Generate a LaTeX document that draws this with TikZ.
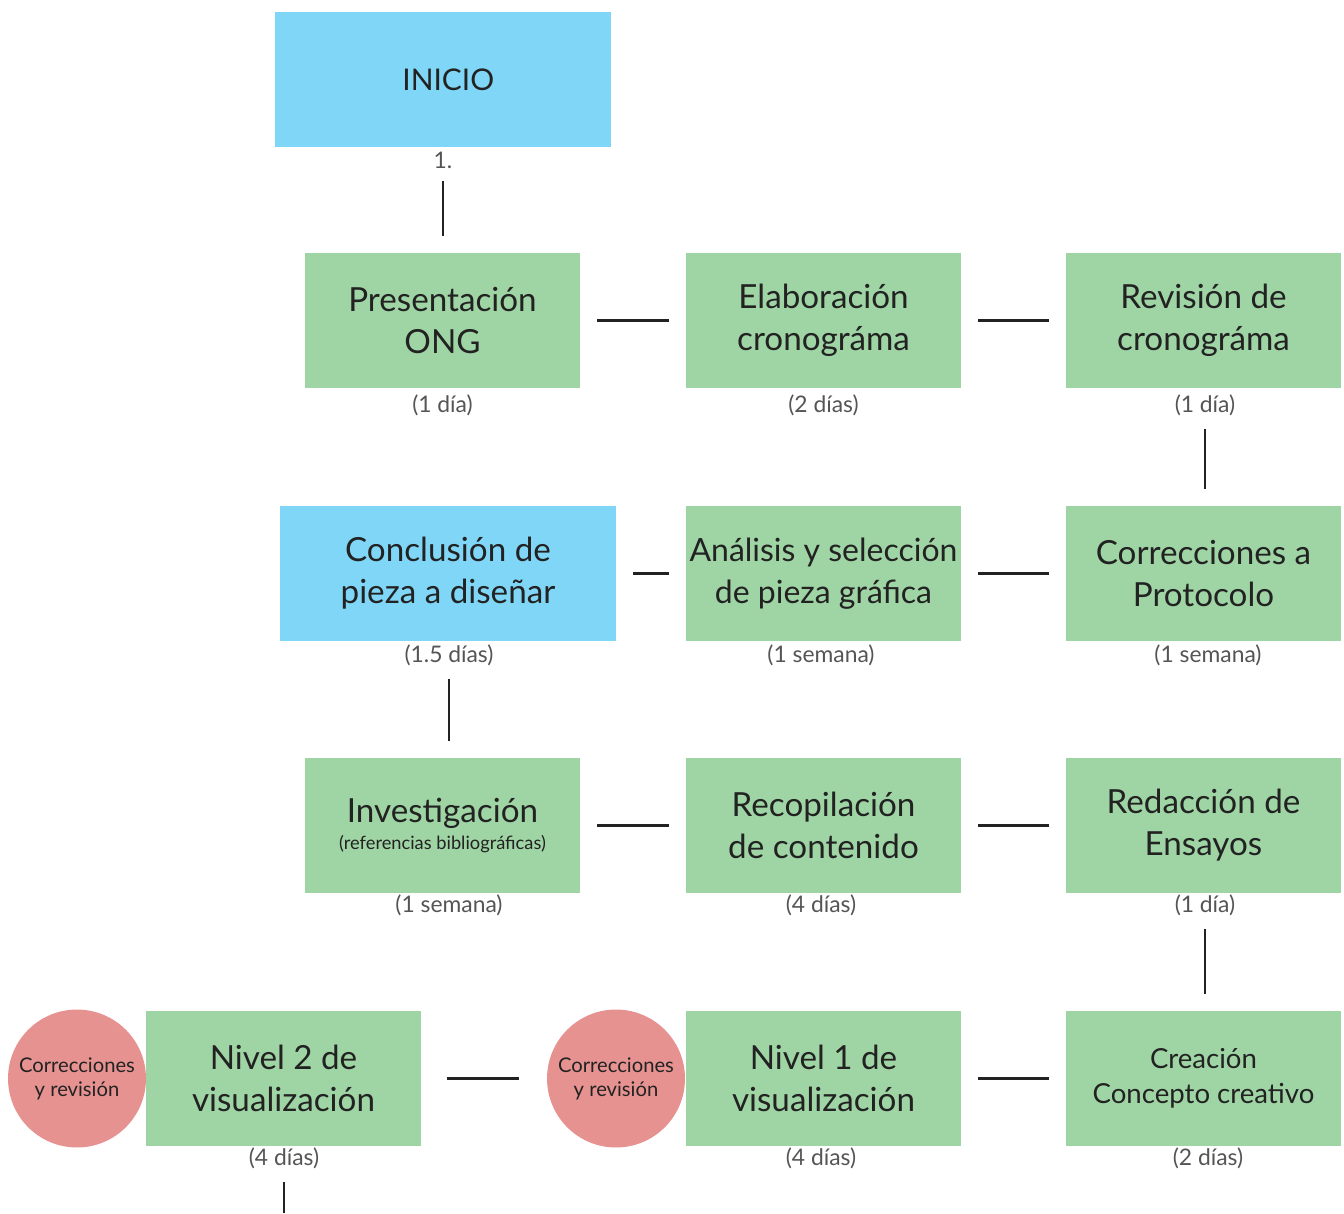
\documentclass[tikz,border=0pt]{standalone}
\usepackage{fontspec}
\setmainfont{Lato}
\usepackage{tikz}
\usepackage{xcolor}
\usetikzlibrary{positioning}
\definecolor{tarea}{HTML}{9FD5A4}
\definecolor{hito}{HTML}{80D6F7}
\definecolor{revis}{HTML}{E69291}
\definecolor{tinta}{HTML}{222222}
\definecolor{gris}{HTML}{555555}
\tikzset{
 box/.style={rectangle, fill=tarea, minimum width=5.5cm, minimum height=2.7cm, inner sep=0pt, align=center, text=tinta, font=\fontsize{18.9}{23.8}\selectfont},
 hitobox/.style={box, fill=hito, minimum width=6.72cm},
 circ/.style={circle, fill=revis, minimum size=2.76cm, inner sep=0pt, align=center, text=tinta, font=\fontsize{11.5}{13.8}\selectfont},
 dur/.style={text=gris, inner sep=1pt, font=\fontsize{13}{15}\selectfont},
 link/.style={draw=tinta, line width=1.5pt, shorten <=0.34cm, shorten >=0.34cm},
 vlink/.style={draw=tinta, line width=1.5pt, shorten <=0.22cm, shorten >=0.32cm}
}
\begin{document}
\begin{tikzpicture}[x=0.02cm, y=-0.02cm]
 \useasboundingbox (0,0) rectangle (1344,1213); % page size
 % boxes
 \node[hitobox, font=\fontsize{17}{21}\selectfont] (inicio) at (443,79.5) {\hspace{6pt}INICIO};
 \node[box] (pres) at (442.5,320.5) {Presentación\\ONG};
 \node[box] (elab) at (823.5,320.5) {Elaboración\\cronográma};
 \node[box] (rev) at (1203.5,320.5) {Revisión de\\cronográma};
 \node[hitobox] (concl) at (448,573.5) {Conclusión de\\pieza a diseñar};
 \node[box, font=\fontsize{18.2}{23.8}\selectfont] (anal) at (823.5,573.5) {Análisis y selección\\de pieza gráfica};
 \node[box] (corr) at (1203.5,573.5) {Correcciones a\\Protocolo};
 \node[box] (inv) at (442.5,825.5) {Investigación\\[-8pt]{\fontsize{10.4}{12.5}\selectfont (referencias bibliográficas)}};
 \node[box] (recop) at (823.5,825.5) {Recopilación\\de contenido};
 \node[box] (redac) at (1203.5,825.5) {Redacción de\\Ensayos};
 \node[box] (niv2) at (283.5,1078.5) {Nivel 2 de\\visualización};
 \node[box] (niv1) at (823.5,1078.5) {Nivel 1 de\\visualización};
 \node[box, font=\fontsize{15.7}{20}\selectfont] (crea) at (1203.5,1078.5) {Creación\\Concepto creativo};
 \node[circ] (corr2) at (77,1078.5) {Correcciones\\y revisión};
 \node[circ] (corr1) at (616,1078.5) {Correcciones\\y revisión};
 % durations
 \node[dur] (iniciod) at (443,160) {1.};
 \node[dur] (presd) at (442.5,405) {(1 día)};
 \node[dur] (elabd) at (823.5,405) {(2 días)};
 \node[dur] (revd) at (1205,405) {(1 día)};
 \node[dur] (concld) at (449,655) {(1.5 días)};
 \node[dur] (anald) at (821,655) {(1 semana)};
 \node[dur] (corrd) at (1208,655) {(1 semana)};
 \node[dur] (invd) at (449,905) {(1 semana)};
 \node[dur] (recopd) at (821,905) {(4 días)};
 \node[dur] (redacd) at (1205,905) {(1 día)};
 \node[dur] (niv2d) at (284,1158) {(4 días)};
 \node[dur] (niv1d) at (821,1158) {(4 días)};
 \node[dur] (cread) at (1208,1158) {(2 días)};
 \coordinate (fin) at (284,1213);
 % connectors
 \draw[vlink] (iniciod) -- (443,252);
 \draw[link] (pres) -- (elab);
 \draw[link] (elab) -- (rev);
 \draw[vlink] (revd) -- (1205,505);
 \draw[link] (corr) -- (anal);
 \draw[link] (anal) -- (concl);
 \draw[vlink] (concld) -- (449,757);
 \draw[link] (inv) -- (recop);
 \draw[link] (recop) -- (redac);
 \draw[vlink] (redacd) -- (1205,1010);
 \draw[link] (crea) -- (niv1);
 \draw[link, shorten <=0.56cm, shorten >=0.52cm] (corr1) -- (niv2);
 \draw[vlink, shorten >=0pt] (niv2d) -- (fin);
\end{tikzpicture}
\end{document}
